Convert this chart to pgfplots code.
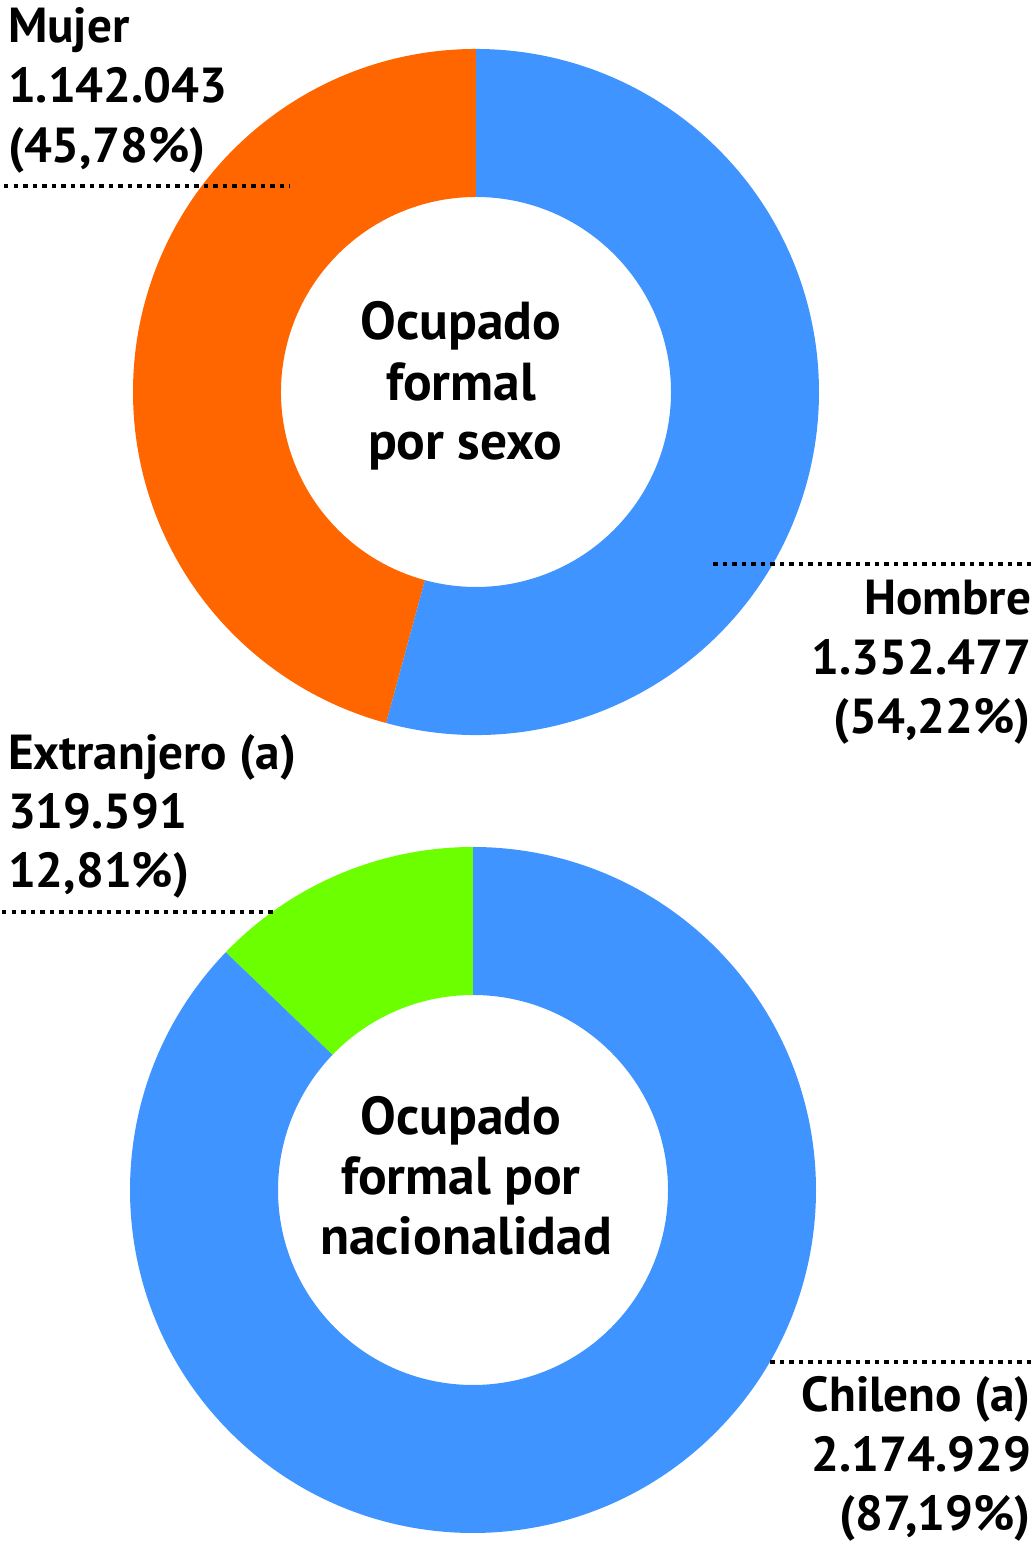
\documentclass[border=0pt]{standalone}
\usepackage{fontspec}
\setmainfont{PT Sans}
\usepackage{pgfplots}
\pgfplotsset{compat=1.18}
\usepackage{pgfplotstable}
\usetikzlibrary{calc}

\definecolor{cOrange}{RGB}{255,102,0}
\definecolor{cBlue}{RGB}{64,148,255}
\definecolor{cGreen}{RGB}{108,255,0}

\tikzset{lab/.style={font=\bfseries\fontsize{14}{16}\selectfont, inner sep=0pt, outer sep=0pt, text=black},
         ctr/.style={font=\bfseries\fontsize{15.2}{17}\selectfont, inner sep=0pt, outer sep=0pt, text=black}}

\pgfplotstableread{
cat value
Mujer 1142043
Hombre 1352477
}\sexo
\pgfplotstableread{
cat value
Extranjero 319591
Chileno 2174929
}\nac

\begin{document}
\begin{tikzpicture}
\pgfplotstablegetelem{0}{value}\of\sexo \edef\vA{\pgfplotsretval}
\pgfplotstablegetelem{1}{value}\of\sexo \edef\vB{\pgfplotsretval}
\pgfplotstablegetelem{0}{value}\of\nac \edef\vC{\pgfplotsretval}
\pgfplotstablegetelem{1}{value}\of\nac \edef\vD{\pgfplotsretval}
\edef\aA{\fpeval{90+360*\vA/(\vA+\vB)}}
\edef\aC{\fpeval{90+360*\vC/(\vC+\vD)}}
\def\ro{3.43cm}
\def\ri{1.95cm}
\begin{axis}[
  scale only axis, width=10.34cm, height=15.45cm,
  xmin=0, xmax=1034, ymin=-1545, ymax=0,
  hide axis, clip=false,
]
% top donut
\coordinate (T) at (axis cs:476,-392);
\fill[cOrange] ($(T)+(90:\ro)$) arc[start angle=90, end angle=\aA, radius=\ro]
   -- ($(T)+(\aA:\ri)$) arc[start angle=\aA, end angle=90, radius=\ri] -- cycle;
\fill[cBlue] ($(T)+(\aA:\ro)$) arc[start angle=\aA, end angle=450, radius=\ro]
   -- ($(T)+(450:\ri)$) arc[start angle=450, end angle=\aA, radius=\ri] -- cycle;
% bottom donut
\coordinate (B) at (axis cs:473,-1190);
\fill[cGreen] ($(B)+(90:\ro)$) arc[start angle=90, end angle=\aC, radius=\ro]
   -- ($(B)+(\aC:\ri)$) arc[start angle=\aC, end angle=90, radius=\ri] -- cycle;
\fill[cBlue] ($(B)+(\aC:\ro)$) arc[start angle=\aC, end angle=450, radius=\ro]
   -- ($(B)+(450:\ri)$) arc[start angle=450, end angle=\aC, radius=\ri] -- cycle;

% dotted leader lines
\begin{scope}[line width=0.035cm, dash pattern=on 0.045cm off 0.05cm]
\draw (axis cs:4,-186) -- (axis cs:290,-186);
\draw (axis cs:713,-564) -- (axis cs:1034,-564);
\draw (axis cs:2,-912) -- (axis cs:273,-912);
\draw (axis cs:770,-1362) -- (axis cs:1034,-1362);
\end{scope}

% labels
\node[lab, anchor=base west] at (axis cs:8,-43) {Mujer};
\node[lab, anchor=base west] at (axis cs:8,-103) {1.142.043};
\node[lab, anchor=base west] at (axis cs:8,-163) {(45,78\%)};

\node[lab, anchor=base east] at (axis cs:1031,-615) {Hombre};
\node[lab, anchor=base east] at (axis cs:1031,-675) {1.352.477};
\node[lab, anchor=base east] at (axis cs:1031,-734) {(54,22\%)};

\node[lab, anchor=base west] at (axis cs:8,-770) {Extranjero (a)};
\node[lab, anchor=base west] at (axis cs:8,-829) {319.591};
\node[lab, anchor=base west] at (axis cs:8,-888) {12,81\%)};

\node[lab, anchor=base east] at (axis cs:1031,-1412) {Chileno (a)};
\node[lab, anchor=base east] at (axis cs:1031,-1472) {2.174.929};
\node[lab, anchor=base east] at (axis cs:1031,-1531) {(87,19\%)};

% centre titles
\node[ctr, anchor=base] at (axis cs:461,-340) {Ocupado};
\node[ctr, anchor=base] at (axis cs:461,-401) {formal};
\node[ctr, anchor=base] at (axis cs:465,-460) {por sexo};

\node[ctr, anchor=base] at (axis cs:461,-1135) {Ocupado};
\node[ctr, anchor=base] at (axis cs:461,-1195) {formal por};
\node[ctr, anchor=base] at (axis cs:466,-1255) {nacionalidad};
\end{axis}
\pgfresetboundingbox
\path (0,0) rectangle (10.34cm,15.45cm);
\end{tikzpicture}
\end{document}
